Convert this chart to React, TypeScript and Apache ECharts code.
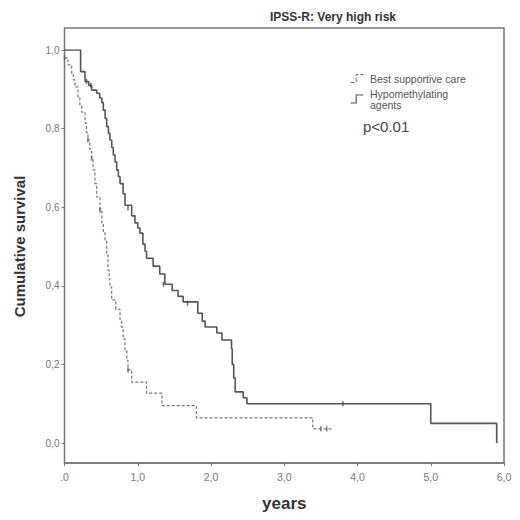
import React, { useEffect, useRef } from "react";
import * as echarts from "echarts";

const titleText = "IPSS-R: Very high risk";
const seriesNames = ["Best supportive care", "Hypomethylating agents"];
const xTicks = [0, 1, 2, 3, 4, 5, 6];
const yTicks = [0, 0.2, 0.4, 0.6, 0.8, 1.0];

// Best supportive care (dashed) step points [time, survival]
const bscTimes = [0, 0.048, 0.098, 0.12, 0.143, 0.184, 0.21, 0.235, 0.28, 0.3, 0.32, 0.345, 0.37, 0.39, 0.415, 0.44, 0.485, 0.51, 0.53, 0.553, 0.576, 0.594, 0.61, 0.62, 0.644, 0.7, 0.758, 0.78, 0.8, 0.826, 0.85, 0.867, 0.917, 1.12, 1.33, 1.8, 3.39, 3.65];
const bscSurv = [0.98, 0.962, 0.941, 0.924, 0.906, 0.878, 0.86, 0.842, 0.814, 0.79, 0.771, 0.748, 0.725, 0.695, 0.66, 0.626, 0.593, 0.56, 0.538, 0.517, 0.483, 0.44, 0.418, 0.397, 0.364, 0.34, 0.313, 0.295, 0.265, 0.237, 0.21, 0.186, 0.155, 0.127, 0.095, 0.064, 0.036, 0.036];

// Hypomethylating agents (solid)
const hmaTimes = [0, 0.22, 0.28, 0.33, 0.37, 0.44, 0.48, 0.51, 0.53, 0.555, 0.576, 0.6, 0.62, 0.645, 0.666, 0.69, 0.713, 0.735, 0.758, 0.8, 0.826, 0.917, 0.962, 1.0, 1.03, 1.07, 1.1, 1.12, 1.21, 1.3, 1.37, 1.47, 1.55, 1.62, 1.82, 1.88, 1.92, 2.08, 2.15, 2.28, 2.29, 2.31, 2.33, 2.44, 2.49, 5.0, 5.9];
const hmaSurv = [1.0, 0.945, 0.92, 0.91, 0.898, 0.89, 0.878, 0.866, 0.847, 0.826, 0.805, 0.788, 0.771, 0.752, 0.733, 0.715, 0.695, 0.678, 0.66, 0.634, 0.605, 0.578, 0.56, 0.547, 0.534, 0.506, 0.488, 0.47, 0.45, 0.43, 0.404, 0.388, 0.373, 0.359, 0.33, 0.31, 0.295, 0.28, 0.262, 0.24, 0.2, 0.165, 0.13, 0.115, 0.1, 0.05, 0.0];

// censored observations
const bscCensorT = [0.0, 0.32, 0.37, 0.485, 0.867, 3.5, 3.58];
const bscCensorS = [0.98, 0.771, 0.725, 0.593, 0.186, 0.036, 0.036];
const hmaCensorT = [0.3, 0.36, 0.867, 1.35, 1.68, 3.8];
const hmaCensorS = [0.92, 0.91, 0.598, 0.404, 0.356, 0.1];

const pText = "p<0.01";

const FONT = "Liberation Sans, Arial, sans-serif";

export default function App() {
  const ref = useRef<HTMLDivElement>(null);
  useEffect(() => {
    if (!ref.current) return;
    const chart = echarts.init(ref.current, null, { renderer: "svg" });
    const zip = (a: number[], b: number[]) => a.map((t, i) => [t, b[i]]);
    chart.setOption({
      animation: false,
      backgroundColor: "#fff",
      textStyle: { fontFamily: FONT },
      grid: { left: 64.5, right: 16, top: 50, bottom: 77 },
      legend: {
        left: 345,
        top: 68,
        orient: "vertical",
        itemWidth: 16,
        itemHeight: 8,
        itemGap: 4,
        textStyle: { fontSize: 10.5, color: "#555", fontFamily: FONT, lineHeight: 11 },
        formatter: (n: string) => (n === seriesNames[1] ? "Hypomethylating\nagents" : n),
        data: [
          { name: seriesNames[0], icon: "path://M0,10L7,10L7,0L16,0", itemStyle: { color: "transparent", borderColor: "#777", borderWidth: 1, borderType: "dashed" } },
          { name: seriesNames[1], icon: "path://M0,10L7,10L7,0L16,0", itemStyle: { color: "transparent", borderColor: "#555", borderWidth: 1.2 } },
        ],
      },
      xAxis: {
        type: "value",
        min: xTicks[0],
        max: xTicks[xTicks.length - 1],
        interval: 1,
        offset: 20,
        name: "years",
        nameLocation: "middle",
        nameGap: 32,
        nameTextStyle: { fontSize: 17, fontWeight: "bold", color: "#333", fontFamily: FONT },
        axisLine: { show: true, onZero: false, lineStyle: { color: "#777", width: 1.5 } },
        axisTick: { show: true, length: 3, lineStyle: { color: "#777" } },
        axisLabel: {
          fontSize: 10.5,
          color: "#777",
          margin: 8,
          formatter: (v: number) => (v === 0 ? ".0" : v.toFixed(1).replace(".", ",")),
        },
        splitLine: { show: false },
      },
      yAxis: {
        type: "value",
        min: yTicks[0],
        max: yTicks[yTicks.length - 1],
        interval: 0.2,
        name: "Cumulative survival",
        nameLocation: "middle",
        nameGap: 38,
        nameTextStyle: { fontSize: 15, fontWeight: "bold", color: "#333", fontFamily: FONT },
        axisLine: { show: false },
        axisTick: { show: true, length: 3, lineStyle: { color: "#777" } },
        axisLabel: {
          fontSize: 10,
          color: "#777",
          margin: 5,
          formatter: (v: number) => v.toFixed(1).replace(".", ","),
        },
        splitLine: { show: false },
      },
      graphic: [
        {
          type: "rect",
          shape: { x: 64.5, y: 28, width: 439.5, height: 435 },
          style: { fill: "none", stroke: "#777", lineWidth: 1.5 },
          silent: true,
          z: 1,
        },
        {
          type: "text",
          x: 333,
          y: 17,
          style: { text: titleText, fontSize: 12, fontWeight: "bold", fill: "#333", textAlign: "center", textVerticalAlign: "middle", fontFamily: FONT },
        },
        {
          type: "text",
          x: 363,
          y: 126,
          style: { text: pText, fontSize: 15, fill: "#444", textAlign: "left", textVerticalAlign: "middle", fontFamily: FONT },
        },
      ],
      series: [
        {
          name: seriesNames[0],
          type: "line",
          step: "end",
          symbol: "none",
          data: zip(bscTimes, bscSurv),
          lineStyle: { color: "#777", width: 1.2, type: [3, 2] },
          itemStyle: { color: "#777" },
          z: 3,
        },
        {
          name: seriesNames[1],
          type: "line",
          step: "end",
          symbol: "none",
          data: zip(hmaTimes, hmaSurv),
          lineStyle: { color: "#555", width: 1.6 },
          itemStyle: { color: "#555" },
          z: 4,
        },
        {
          name: "bscCensor",
          type: "scatter",
          symbol: "rect",
          symbolSize: [1.5, 5],
          data: zip(bscCensorT, bscCensorS),
          itemStyle: { color: "#555" },
          z: 5,
        },
        {
          name: "hmaCensor",
          type: "scatter",
          symbol: "rect",
          symbolSize: [1.5, 5],
          data: zip(hmaCensorT, hmaCensorS),
          itemStyle: { color: "#444" },
          z: 5,
        },
      ],
    });
    return () => chart.dispose();
  }, []);
  return <div ref={ref} style={{ position: "fixed", left: 0, top: 0, width: 520, height: 520 }} />;
}
